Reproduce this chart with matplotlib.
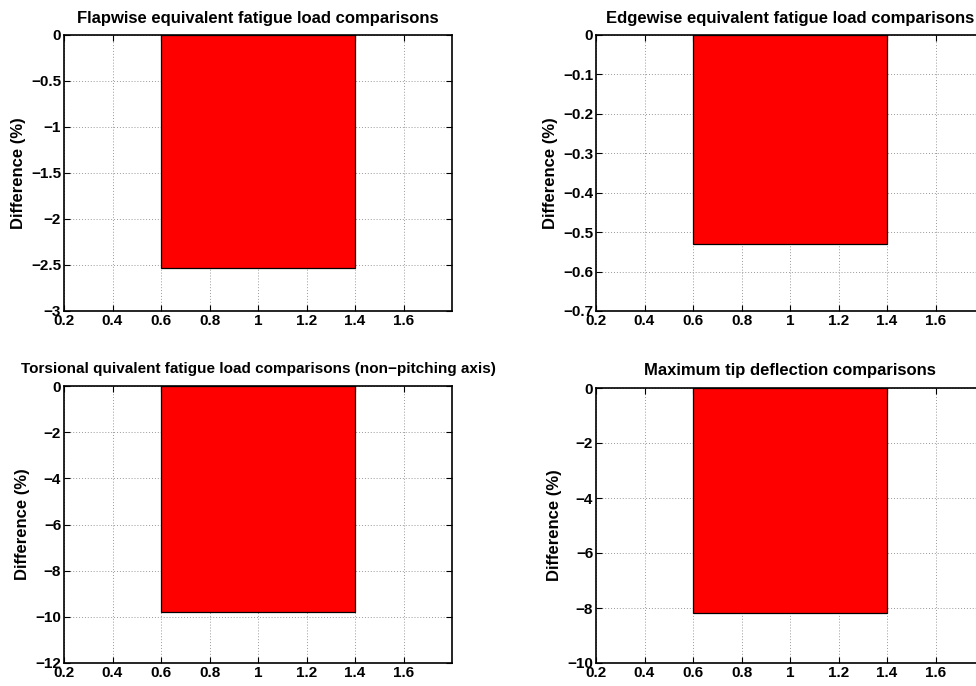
import matplotlib
matplotlib.use("Agg")
import matplotlib.pyplot as plt
from matplotlib.ticker import FuncFormatter

plt.rcParams['font.family'] = ['Liberation Sans', 'DejaVu Sans']
plt.rcParams['font.weight'] = 'bold'

# data
titles = ["Flapwise equivalent fatigue load comparisons",
          "Edgewise equivalent fatigue load comparisons",
          "Torsional quivalent fatigue load comparisons (non\u2212pitching axis)",
          "Maximum tip deflection comparisons"]
title_sizes = [12, 12, 11, 12]
bar_x = [1]
diff_values = [-2.53, -0.53, -9.8, -8.17]
y_limits = [(-3, 0), (-0.7, 0), (-12, 0), (-10, 0)]
y_steps = [0.5, 0.1, 2, 2]
x_ticks = [0.2, 0.4, 0.6, 0.8, 1.0, 1.2, 1.4, 1.6]

W, H = 976, 686
fig = plt.figure(figsize=(W / 100, H / 100), dpi=100)

# axes boxes in pixels: left, top, right, bottom
boxes = [(64, 35, 452, 311), (596, 35, 984, 311),
         (64, 386, 452, 663), (596, 388, 984, 663)]

fmt = FuncFormatter(lambda v, p: ('%g' % round(v, 6)).replace('-', '\u2212'))

for i in range(4):
    l, t, r, b = boxes[i]
    ax = fig.add_axes([l / W, 1 - b / H, (r - l) / W, (b - t) / H])
    ax.bar(bar_x, [diff_values[i]], width=0.8, color='#ff0000',
           edgecolor='black', linewidth=0.9, zorder=2)
    lo, hi = y_limits[i]
    n = int(round((hi - lo) / y_steps[i]))
    ax.set_yticks([lo + k * y_steps[i] for k in range(n + 1)])
    ax.set_ylim(lo, hi)
    ax.set_xticks(x_ticks)
    ax.set_xlim(0.2, 1.8)
    ax.xaxis.set_major_formatter(fmt)
    ax.yaxis.set_major_formatter(fmt)
    ax.grid(True, linestyle=(0, (1, 2)), color='#999999', linewidth=0.7, zorder=0)
    ax.set_axisbelow(True)
    ax.tick_params(direction='in', top=True, right=True, length=4, width=0.8,
                   labelsize=11, pad=2)
    for lab in ax.get_xticklabels() + ax.get_yticklabels():
        lab.set_fontweight('bold')
    for s in ax.spines.values():
        s.set_linewidth(1.2)
    ax.set_title(titles[i], fontsize=title_sizes[i], fontweight='bold', pad=9)
    ax.set_ylabel('Difference (%)', fontsize=12, fontweight='bold', labelpad=4)

fig.savefig('out.png', dpi=100)
